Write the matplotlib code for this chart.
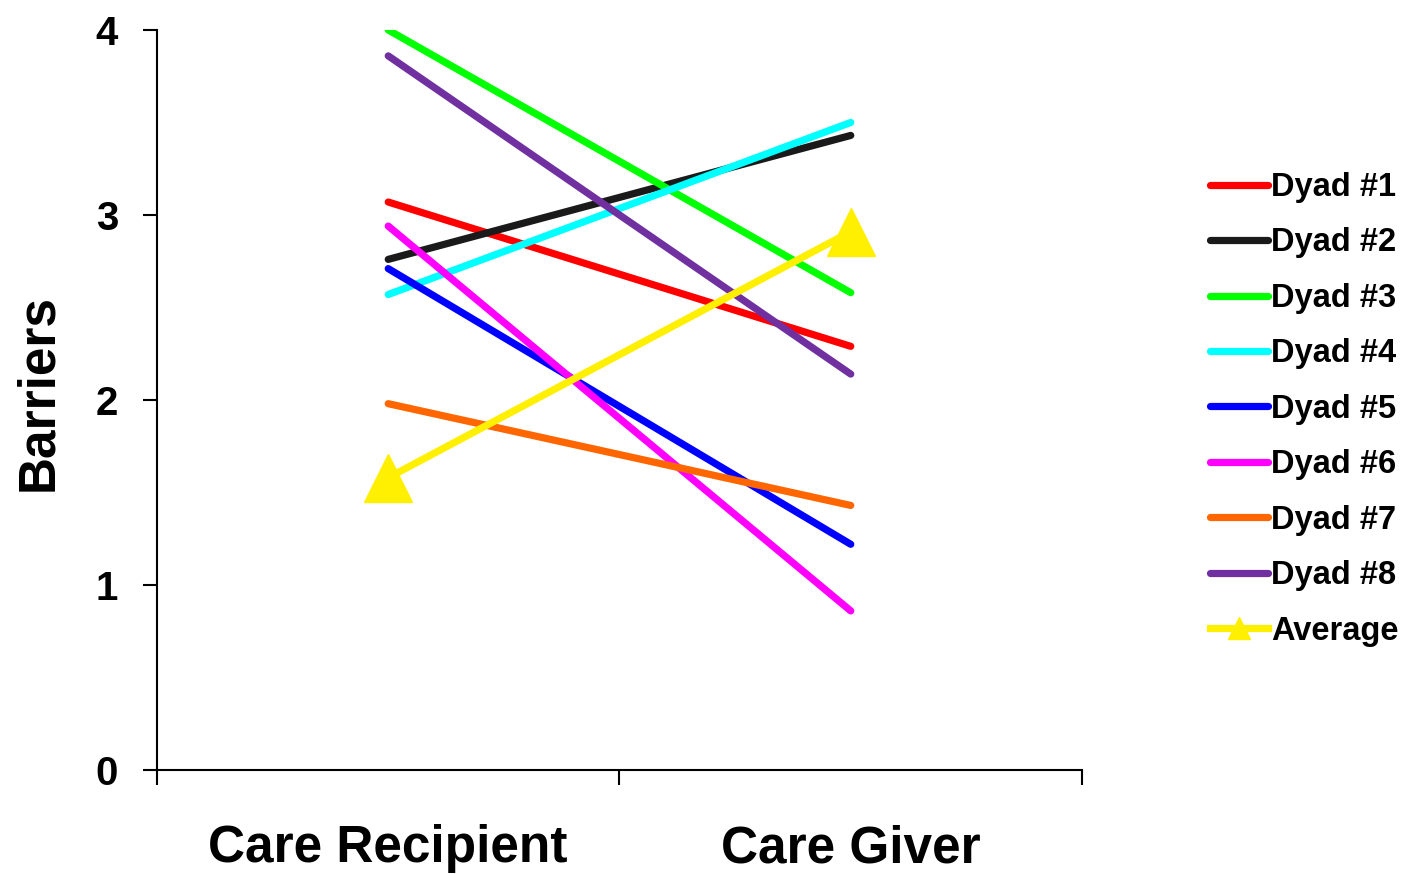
import matplotlib
matplotlib.use("Agg")
import matplotlib.pyplot as plt

plt.rcParams['font.family'] = ['Liberation Sans', 'DejaVu Sans']
plt.rcParams['font.weight'] = 'bold'

# ── Datos ──────────────────────────────────────────────────────────────────
CATEGORIAS = ["Care Recipient", "Care Giver"]
SERIES = ["Dyad #1", "Dyad #2", "Dyad #3", "Dyad #4",
          "Dyad #5", "Dyad #6", "Dyad #7", "Dyad #8"]
RECEPTOR = [3.07, 2.76, 4.00, 2.57, 2.71, 2.94, 1.98, 3.86]
CUIDADOR = [2.29, 3.43, 2.58, 3.50, 1.22, 0.86, 1.43, 2.14]
PROMEDIO = [1.58, 2.91]
Y_TICKS = [0, 1, 2, 3, 4]

COLORES = ["#FF0000", "#1A1A1A", "#00FF00", "#00FFFF",
           "#0000FF", "#FF00FF", "#FF6600", "#7030A0"]
AMARILLO = "#FFEF00"

# ── Figura ─────────────────────────────────────────────────────────────────
fig = plt.figure(figsize=(14.03, 8.74), dpi=100)
ax = fig.add_axes([0.1119, 0.119, 0.6593, 0.8467])

x = [0.5, 1.5]
for nombre, a, b, c in zip(SERIES, RECEPTOR, CUIDADOR, COLORES):
    ax.plot(x, [a, b], color=c, linewidth=5.2, solid_capstyle='round', label=nombre)
ax.plot(x, PROMEDIO, color=AMARILLO, linewidth=5.2, marker='^', markersize=34,
        label="Average", clip_on=False)

# ── Ejes ───────────────────────────────────────────────────────────────────
ax.set_xlim(0, 2)
ax.set_ylim(0, 4)
ax.set_xticks([0, 1, 2])
ax.set_xticklabels([])
ax.set_xticks(x, minor=True)
ax.set_xticklabels(CATEGORIAS, minor=True, fontsize=37, fontweight='bold')
ax.tick_params(axis='x', which='major', direction='out', length=11, width=1.5)
ax.tick_params(axis='x', which='minor', length=0, pad=39)
ax.set_yticks(Y_TICKS)
ax.set_yticklabels([str(v) for v in Y_TICKS], fontsize=29, fontweight='bold')
ax.tick_params(axis='y', direction='out', length=10, width=1.5, pad=18)

for lado in ['top', 'right']:
    ax.spines[lado].set_visible(False)
for lado in ['left', 'bottom']:
    ax.spines[lado].set_linewidth(1.5)

ax.set_ylabel("Barriers", fontsize=37, fontweight='bold')
ax.yaxis.set_label_coords(-0.102, 0.51)

ax.legend(loc='upper left', bbox_to_anchor=(1210 / 1403, 1 - 172 / 874),
          bbox_transform=fig.transFigure, frameon=False, fontsize=23.5,
          handlelength=1.78, handletextpad=0.1, labelspacing=0.75,
          borderpad=0, borderaxespad=0, markerscale=0.45)

plt.savefig("out.png", dpi=100)
